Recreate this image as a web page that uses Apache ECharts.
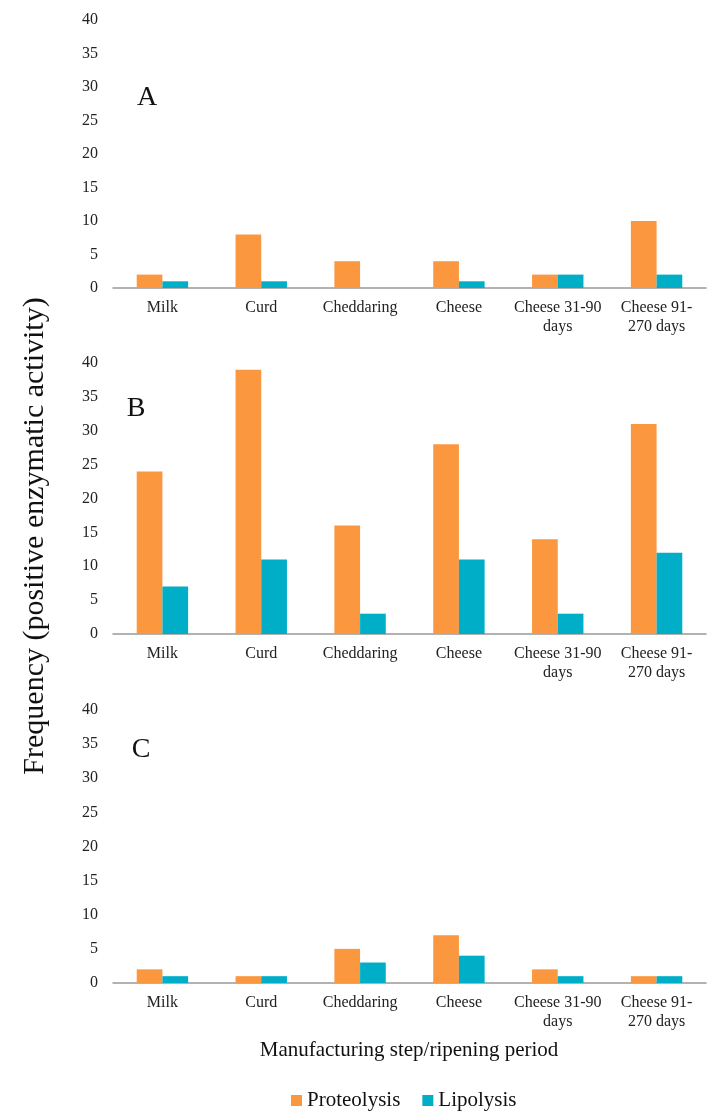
<!DOCTYPE html>
<html>
<head>
<meta charset="utf-8">
<script src="https://cdn.jsdelivr.net/npm/echarts@6/dist/echarts.min.js"></script>
<style>html,body{margin:0;padding:0;background:#fff}#c{width:716px;height:1119px}</style>
</head>
<body>
<div id="c"></div>
<script>
var categories = ['Milk', 'Curd', 'Cheddaring', 'Cheese', 'Cheese 31-90\ndays', 'Cheese 91-\n270 days'];
var yTicks = [0, 5, 10, 15, 20, 25, 30, 35, 40];
var panelLabels = ['A', 'B', 'C'];
var seriesNames = ['Proteolysis', 'Lipolysis'];
var proteolysisA = [2, 8, 4, 4, 2, 10];
var lipolysisA   = [1, 1, 0, 1, 2, 2];
var proteolysisB = [24, 39, 16, 28, 14, 31];
var lipolysisB   = [7, 11, 3, 11, 3, 12];
var proteolysisC = [2, 1, 5, 7, 2, 1];
var lipolysisC   = [1, 1, 3, 4, 1, 1];

var FONT = '"Liberation Serif", "Times New Roman", serif';
var ORANGE = '#FB973F';
var BLUE = '#00AEC7';
var panels = [
  {p: proteolysisA, l: lipolysisA, top: 20, bottom: 1119 - 288},
  {p: proteolysisB, l: lipolysisB, top: 363, bottom: 1119 - 634},
  {p: proteolysisC, l: lipolysisC, top: 710, bottom: 1119 - 983}
];
var letterPos = [[147, 98], [136, 409], [141, 750]];

var grids = [], xAxes = [], yAxes = [], series = [], graphics = [];
panels.forEach(function (pn, i) {
  grids.push({left: 113, right: 10, top: pn.top, bottom: pn.bottom, containLabel: false});
  xAxes.push({
    type: 'category', gridIndex: i, data: categories,
    axisLine: {lineStyle: {color: '#999', width: 1.5}},
    axisTick: {show: false},
    axisLabel: {color: '#222', fontFamily: FONT, fontSize: 16, lineHeight: 19, margin: 10, interval: 0}
  });
  yAxes.push({
    type: 'value', gridIndex: i, min: yTicks[0], max: yTicks[yTicks.length - 1], interval: 5,
    axisLine: {show: false}, axisTick: {show: false}, splitLine: {show: false},
    axisLabel: {color: '#222', fontFamily: FONT, fontSize: 16, margin: 15}
  });
  series.push({
    name: seriesNames[0], type: 'bar', xAxisIndex: i, yAxisIndex: i, data: pn.p,
    itemStyle: {color: ORANGE}, barGap: '0%', barCategoryGap: '48%'
  });
  series.push({
    name: seriesNames[1], type: 'bar', xAxisIndex: i, yAxisIndex: i, data: pn.l,
    itemStyle: {color: BLUE}, barGap: '0%', barCategoryGap: '48%'
  });
  graphics.push({
    type: 'text', x: letterPos[i][0], y: letterPos[i][1],
    style: {text: panelLabels[i], font: '28px ' + FONT, fill: '#111', textAlign: 'center', textVerticalAlign: 'middle'}
  });
});

graphics.push({
  type: 'text', x: 35, y: 536, rotation: Math.PI / 2,
  style: {text: 'Frequency (positive enzymatic activity)', font: '30px ' + FONT, fill: '#111', textAlign: 'center', textVerticalAlign: 'middle'}
});
graphics.push({
  type: 'text', x: 409, y: 1050,
  style: {text: 'Manufacturing step/ripening period', font: '21px ' + FONT, fill: '#111', textAlign: 'center', textVerticalAlign: 'middle'}
});

var chart = echarts.init(document.getElementById('c'), null, {renderer: 'canvas'});
chart.setOption({
  backgroundColor: '#fff',
  animation: false,
  grid: grids,
  xAxis: xAxes,
  yAxis: yAxes,
  series: series,
  legend: {
    data: seriesNames, left: 286, top: 1085, icon: 'rect', itemWidth: 11, itemHeight: 11, itemGap: 22,
    textStyle: {fontFamily: FONT, fontSize: 21, color: '#111'}
  },
  graphic: graphics
});
</script>
</body>
</html>
